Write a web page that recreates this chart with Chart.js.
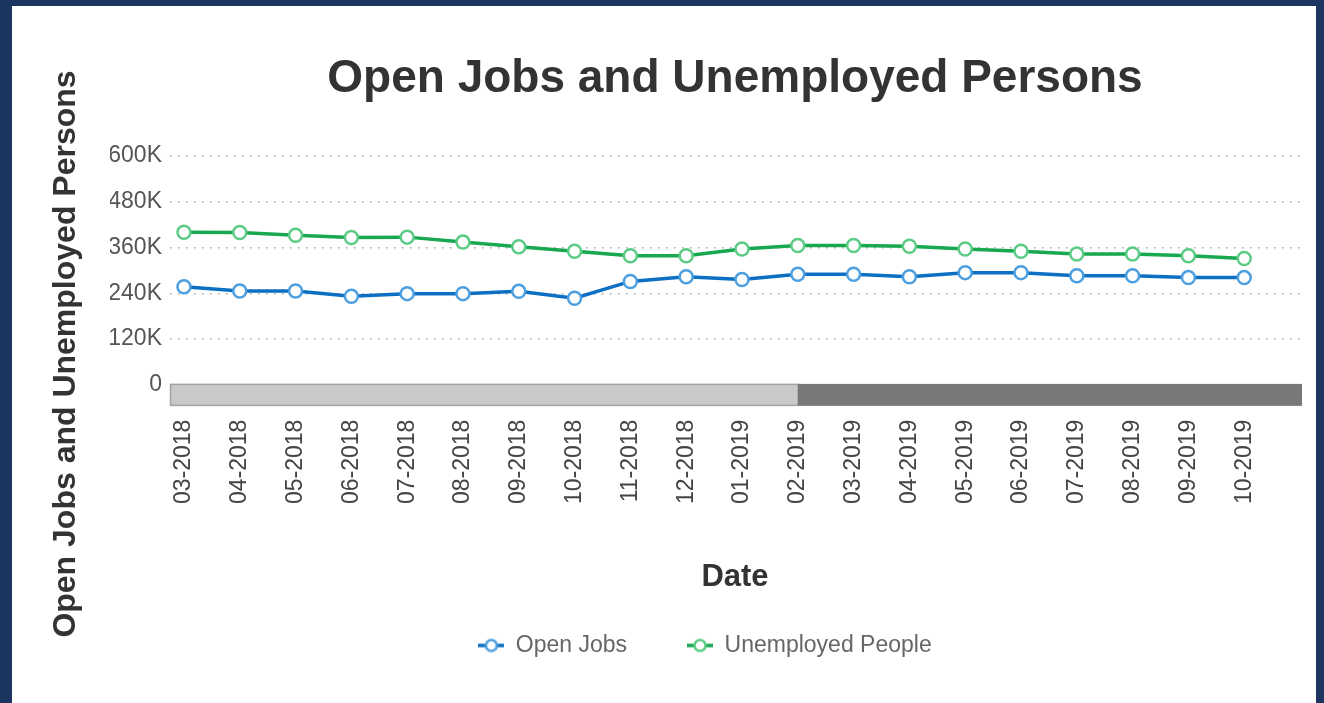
<!DOCTYPE html>
<html><head><meta charset="utf-8">
<script src="https://cdn.jsdelivr.net/npm/chart.js@4.4.1/dist/chart.umd.min.js"></script>
<style>
html,body{margin:0;padding:0;background:#1c3560;overflow:hidden;width:1324px;height:703px;}
#panel{position:absolute;left:12px;top:6px;width:1304px;height:697px;background:#fff;overflow:hidden;}
canvas{display:block;}
</style></head><body>
<div id="panel"><canvas id="c" width="1304" height="720"></canvas></div>
<script>
// ---- data ----
const categories = ['03-2018','04-2018','05-2018','06-2018','07-2018','08-2018','09-2018','10-2018','11-2018','12-2018',
                    '01-2019','02-2019','03-2019','04-2019','05-2019','06-2019','07-2019','08-2019','09-2019','10-2019'];
const openJobs   = [257000,246000,246000,232000,239000,239000,245000,227000,271000,283000,
                    276000,290000,290000,283000,294000,294000,286000,286000,281000,281000];
const unemployed = [400000,399000,392000,386000,387000,374000,362000,350000,338000,338000,
                    356000,365000,365000,363000,356000,350000,343000,343000,338000,331000];
const yTickValues = [0,120000,240000,360000,480000,600000];
const seriesNames = ['Open Jobs','Unemployed People'];
const chartTitle = 'Open Jobs and Unemployed Persons';
const yAxisTitle = 'Open Jobs and Unemployed Persons';
const xAxisTitle = 'Date';
const sliderSplitLabel = '02-2019';

// ---- styles ----
const FONT = '"Liberation Sans", Arial, Helvetica, sans-serif';
Chart.defaults.font.family = FONT;
const BLUE = '#0d6fc3', BLUE_PT = '#4d9fe0';
const GREEN = '#18a84f', GREEN_PT = '#5ccb85';

function legendIcon(line, pt){
  const c = document.createElement('canvas');
  c.width = 26; c.height = 16;
  const g = c.getContext('2d');
  g.strokeStyle = line; g.lineWidth = 3.5;
  g.beginPath(); g.moveTo(0,8); g.lineTo(26,8); g.stroke();
  g.fillStyle = '#fff'; g.strokeStyle = pt; g.lineWidth = 2.5;
  g.beginPath(); g.arc(13,8,5.5,0,Math.PI*2); g.fill(); g.stroke();
  return c;
}
const icons = [legendIcon(BLUE,BLUE_PT), legendIcon(GREEN,GREEN_PT)];

const toPoints = arr => arr.map((v,i)=>({x:i,y:v}));

const yTitlePlugin = {
  id:'yTitle',
  afterDraw(chart){
    const ctx = chart.ctx;
    ctx.save();
    ctx.translate(54, 348);
    ctx.rotate(-Math.PI/2);
    ctx.font = 'bold 32px ' + FONT;
    ctx.fillStyle = '#333';
    ctx.textAlign = 'center';
    ctx.textBaseline = 'middle';
    ctx.fillText(yAxisTitle, 0, 0);
    ctx.restore();
  }
};

const sliderPlugin = {
  id:'slider',
  beforeDatasetsDraw(chart){
    const {ctx, chartArea, scales} = chart;
    const y0 = scales.y.getPixelForValue(0);
    const left = chartArea.left, right = chartArea.right + 2;
    const split = scales.x.getPixelForValue(categories.indexOf(sliderSplitLabel));
    const top = y0 - 1, h = 22;
    ctx.save();
    ctx.fillStyle = '#c9c9c9';
    ctx.fillRect(left, top, split - left, h);
    ctx.strokeStyle = '#a3a3a3'; ctx.lineWidth = 1.5;
    ctx.strokeRect(left + 0.5, top + 0.5, split - left, h - 1);
    ctx.fillStyle = '#787878';
    ctx.fillRect(split, top, right - split, h);
    ctx.restore();
  }
};

new Chart(document.getElementById('c'), {
  type:'line',
  data:{
    datasets:[
      {label:seriesNames[0], data:toPoints(openJobs), borderColor:BLUE, backgroundColor:'#fff',
       pointBorderColor:BLUE_PT, pointBackgroundColor:'#fff', borderWidth:3.5,
       pointRadius:6.5, pointBorderWidth:2.5, tension:0, pointStyle:'circle'},
      {label:seriesNames[1], data:toPoints(unemployed), borderColor:GREEN, backgroundColor:'#fff',
       pointBorderColor:GREEN_PT, pointBackgroundColor:'#fff', borderWidth:3.5,
       pointRadius:6.5, pointBorderWidth:2.5, tension:0, pointStyle:'circle'}
    ]
  },
  options:{
    responsive:false, animation:false, devicePixelRatio:1,
    layout:{padding:{left:98, right:16, top:0, bottom:59}},
    plugins:{
      title:{display:true, text:chartTitle, fullSize:false, color:'#333',
             font:{size:46, weight:'bold', lineHeight:1.2}, padding:{top:46, bottom:48.6}},
      legend:{display:true, position:'bottom',
        labels:{usePointStyle:true, pointStyleWidth:26, boxHeight:12, padding:60, color:'#666',
          font:{size:23},
          generateLabels(chart){
            return chart.data.datasets.map((ds,i)=>({
              text: ds.label, fillStyle:'#fff', strokeStyle: ds.borderColor, lineWidth:0,
              pointStyle: icons[i], datasetIndex:i, hidden:false, fontColor:'#666'
            }));
          }
        }
      },
      tooltip:{enabled:false}
    },
    scales:{
      x:{
        type:'linear', min:-0.25, max:20,
        grid:{display:false, drawTicks:false},
        border:{display:false},
        afterBuildTicks(scale){ scale.ticks = categories.map((c,i)=>({value:i})); },
        ticks:{autoSkip:false, maxRotation:90, minRotation:90, padding:34.7, color:'#444',
               font:{size:23},
               callback:(v)=>categories[v]},
        title:{display:true, text:xAxisTitle, color:'#333', font:{size:31, weight:'bold', lineHeight:1.2},
               padding:{top:19.7, bottom:-21.6}}
      },
      y:{
        min:0, max:600000,
        afterBuildTicks(scale){ scale.ticks = yTickValues.map(v=>({value:v})); },
        afterFit(scale){ scale.width = 60; },
        grid:{color:'#a8a8a8', lineWidth:1.5, drawTicks:false},
        border:{display:false, dash:[1.5,6.5]},
        ticks:{padding:8, color:'#555', font:{size:23},
               callback:(v)=> v===0 ? '0' : (v/1000)+'K'}
      }
    }
  },
  plugins:[yTitlePlugin, sliderPlugin]
});
</script>
</body></html>
